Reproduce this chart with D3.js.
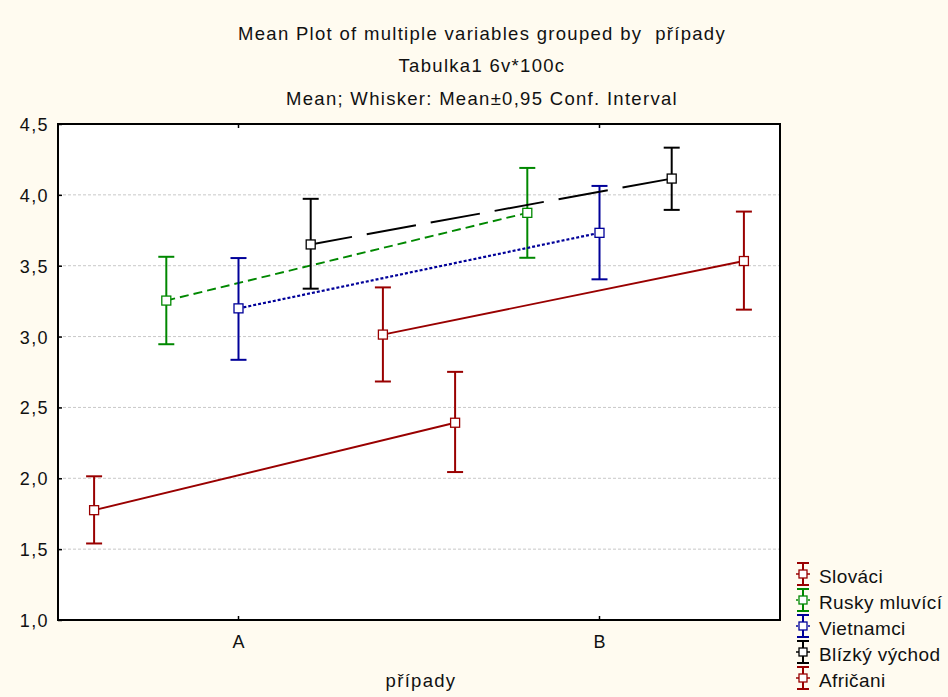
<!DOCTYPE html>
<html>
<head>
<meta charset="utf-8">
<script src="https://cdn.jsdelivr.net/npm/d3@7/dist/d3.min.js"></script>
<style>
html,body{margin:0;padding:0;background:#fffbf0;}
svg{display:block;}
text{font-family:"Liberation Sans",Arial,sans-serif;fill:#111;white-space:pre;}
</style>
</head>
<body>
<svg id="chart" width="948" height="697"></svg>
<script>
const categories = ["A", "B"];
const seriesNames = ["Slováci", "Rusky mluvící", "Vietnamci", "Blízký východ", "Afričani"];
const seriesColors = ["#990000", "#008800", "#000099", "#000000", "#990000"];
const seriesDash = [null, "9,5", "3,2", "50,15", null];
const legendDash = [null, "2,2", "2,2", null, null];
const means = [[1.775, 2.392],[3.254, 3.873],[3.199, 3.732],[3.650, 4.115],[3.014, 3.533]];
const upper = [[2.014, 2.751],[3.563, 4.190],[3.554, 4.063],[3.972, 4.333],[3.347, 3.882]];
const lower = [[1.540, 2.044],[2.946, 3.556],[2.836, 3.404],[3.338, 3.894],[2.683, 3.190]];
const yTicks = [1.0, 1.5, 2.0, 2.5, 3.0, 3.5, 4.0, 4.5];
const titleLines = ["Mean Plot of multiple variables grouped by  případy", "Tabulka1 6v*100c", "Mean; Whisker: Mean±0,95 Conf. Interval"];
const xLabel = "případy";

const svg = d3.select("#chart");
const L = 58, R = 780, T = 124, B = 620;

svg.append("rect").attr("x", L).attr("y", T).attr("width", R - L).attr("height", B - T).attr("fill", "#fff");

const x = d3.scaleBand().domain(categories).range([L, R]).padding(0);
const inner = d3.scaleBand().domain(d3.range(seriesNames.length)).range([0, x.bandwidth()]);
const y = d3.scaleLinear().domain([1, 4.5]).range([B, T]);
const fmt = d => d3.format(".1f")(d).replace(".", ",");

// grid
svg.append("g").selectAll("line").data(yTicks.filter(d => d > 1 && d < 4.5)).join("line")
  .attr("x1", L).attr("x2", R).attr("y1", d => y(d)).attr("y2", d => y(d))
  .attr("stroke", "#c8c8c8").attr("stroke-width", 1).attr("stroke-dasharray", "3,2");

// left axis
const yAxis = d3.axisLeft(y).tickValues(yTicks).tickFormat(fmt).tickSize(-4).tickPadding(9);
const gy = svg.append("g").attr("transform", `translate(${L},0)`).call(yAxis);
gy.select(".domain").remove();
gy.selectAll(".tick line").attr("stroke", "#000").attr("stroke-width", 1.5);
gy.selectAll("text").style("font-size", "18px").style("letter-spacing", "1.4px").attr("fill", "#111").attr("dy", "0.36em");

// bottom axis
const xAxis = d3.axisBottom(x).tickSize(-4).tickPadding(15);
const gx = svg.append("g").attr("transform", `translate(0,${B})`).call(xAxis);
gx.select(".domain").remove();
gx.selectAll(".tick line").attr("stroke", "#000").attr("stroke-width", 1.5);
gx.selectAll("text").style("font-size", "18px").attr("fill", "#111");
// top ticks
const gt = svg.append("g").attr("transform", `translate(0,${T})`).call(d3.axisTop(x).tickSize(-4).tickFormat(""));
gt.select(".domain").remove();
gt.selectAll(".tick line").attr("stroke", "#000").attr("stroke-width", 1.5);

// series
const px = (i, j) => x(categories[j]) + inner(i) + inner.bandwidth() / 2;
seriesNames.forEach((name, i) => {
  const g = svg.append("g");
  const col = seriesColors[i];
  const pts = categories.map((c, j) => [px(i, j), y(means[i][j])]);
  const ptsDraw = i === 3 ? pts.slice().reverse() : pts;
  g.append("path").attr("d", d3.line()(ptsDraw)).attr("fill", "none").attr("stroke", col)
    .attr("stroke-width", i === 2 ? 2.2 : 1.9).attr("stroke-dasharray", seriesDash[i]);
  categories.forEach((c, j) => {
    const cx = px(i, j);
    g.append("line").attr("x1", cx).attr("x2", cx).attr("y1", y(upper[i][j])).attr("y2", y(lower[i][j]))
      .attr("stroke", col).attr("stroke-width", 2);
    [upper[i][j], lower[i][j]].forEach(v => {
      g.append("line").attr("x1", cx - 8).attr("x2", cx + 8).attr("y1", y(v)).attr("y2", y(v))
        .attr("stroke", col).attr("stroke-width", 2);
    });
    g.append("rect").attr("x", cx - 4.5).attr("y", y(means[i][j]) - 4.5).attr("width", 9).attr("height", 9)
      .attr("fill", "#fff").attr("stroke", col).attr("stroke-width", 1.3);
  });
});

// frame
svg.append("rect").attr("x", L).attr("y", T).attr("width", R - L).attr("height", B - T)
  .attr("fill", "none").attr("stroke", "#000").attr("stroke-width", 2);

// titles
const titleY = [40, 72, 105];
titleLines.forEach((t, k) => {
  svg.append("text").attr("x", 482).attr("y", titleY[k]).attr("text-anchor", "middle")
    .style("font-size", "18.5px").style("letter-spacing", "1.3px").text(t);
});
svg.append("text").attr("x", 421).attr("y", 687).attr("text-anchor", "middle")
  .style("font-size", "18.5px").style("letter-spacing", "1.3px").text(xLabel);

// legend
const lg = svg.append("g").attr("transform", "translate(803,574)");
seriesNames.forEach((name, i) => {
  const g = lg.append("g").attr("transform", `translate(0,${i * 26})`);
  const col = seriesColors[i];
  g.append("line").attr("x1", 0).attr("x2", 0).attr("y1", -11).attr("y2", 11).attr("stroke", col).attr("stroke-width", 2);
  [-11, 11].forEach(v => g.append("line").attr("x1", -6).attr("x2", 6).attr("y1", v).attr("y2", v).attr("stroke", col).attr("stroke-width", 2));
  g.append("line").attr("x1", -7).attr("x2", 7).attr("y1", 0).attr("y2", 0).attr("stroke", col)
    .attr("stroke-width", 1.5).attr("stroke-dasharray", legendDash[i]);
  g.append("rect").attr("x", -4).attr("y", -4).attr("width", 8).attr("height", 8).attr("fill", "#fff").attr("stroke", col).attr("stroke-width", 1.3);
  g.append("text").attr("x", 16).attr("y", 9).style("font-size", "19px").style("letter-spacing", "0.4px").text(name);
});
</script>
</body>
</html>
